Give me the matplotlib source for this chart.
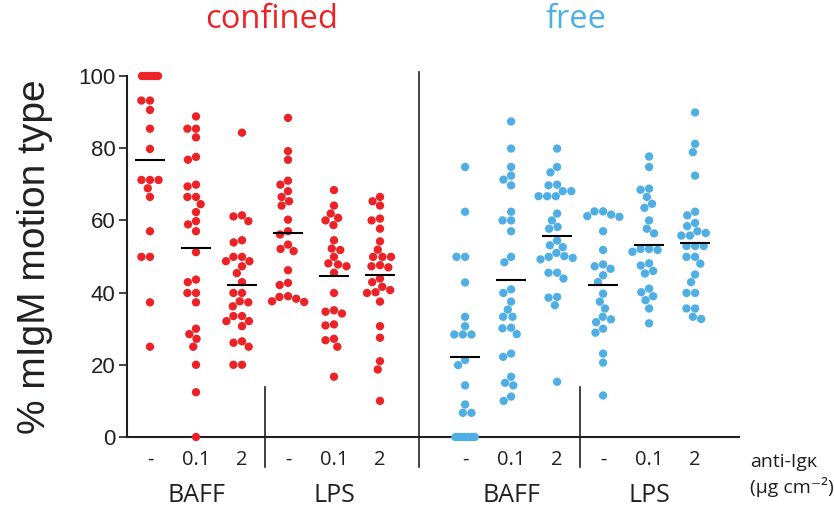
import numpy as np
import matplotlib
matplotlib.use("Agg")
import matplotlib.pyplot as plt

# ---------------- data ----------------
conditions = ["confined", "free"]
treatments = ["BAFF", "LPS"]
doses = ["-", "0.1", "2"]
dose_unit_label = "anti-Igκ"
dose_unit = "(μg cm⁻²)"
y_label = "% mIgM motion type"
y_ticks = [0, 20, 40, 60, 80, 100]

confined_baff_0 = [100, 100, 100, 100, 100, 100, 93.2, 93.2, 90.6, 85.4, 79.8,
                   71.2, 71.2, 71.2, 68.9, 66.5, 57.0, 49.9, 49.9, 37.3, 25.0]
confined_baff_01 = [88.8, 85.4, 85.4, 83.0, 77.6, 76.8, 69.4, 69.9, 66.5, 66.5,
                    64.5, 62.3, 59.8, 58.9, 57.0, 51.2, 43.6, 42.9, 39.9, 39.9,
                    37.3, 30.0, 27.2, 28.5, 25.0, 20.0, 12.4, 0.0]
confined_baff_2 = [84.3, 61.1, 61.4, 59.8, 53.9, 54.5, 49.9, 49.9, 48.7, 48.7,
                   47.3, 45.4, 42.9, 39.9, 39.9, 37.3, 36.2, 37.6, 33.5, 33.5,
                   32.1, 32.1, 30.7, 26.1, 26.5, 25.0, 20.0, 20.0]
confined_lps_0 = [88.4, 79.2, 76.8, 71.0, 69.9, 68.1, 66.5, 65.3, 64.1, 60.2,
                  57.0, 56.1, 53.3, 52.1, 51.5, 46.2, 42.7, 42.1, 39.0, 38.3,
                  37.6, 37.4, 38.8]
confined_lps_01 = [68.4, 64.1, 61.9, 60.7, 60.0, 58.7, 54.5, 52.2, 51.8, 49.9,
                   48.1, 47.8, 47.3, 45.5, 39.9, 35.1, 34.2, 34.7, 30.9, 31.2,
                   26.8, 27.2, 25.0, 16.7]
confined_lps_2 = [66.5, 65.3, 64.1, 60.5, 60.0, 57.7, 54.2, 51.9, 49.9, 49.9,
                  49.9, 47.6, 47.0, 47.3, 43.9, 42.9, 41.6, 40.7, 40.1, 39.9,
                  37.5, 30.7, 27.5, 21.0, 18.7, 10.0]

free_baff_0 = [74.8, 62.4, 49.9, 49.9, 42.8, 33.3, 30.7, 28.4, 28.4, 28.4, 21.3,
               19.9, 14.3, 9.0, 6.7, 6.7, 0, 0, 0, 0, 0, 0, 0]
free_baff_01 = [87.4, 79.9, 74.8, 72.4, 71.3, 69.7, 62.4, 60.0, 60.0, 57.0,
                49.9, 48.4, 40.9, 39.9, 37.5, 35.3, 33.3, 33.3, 30.1, 30.3,
                28.5, 23.1, 22.2, 16.7, 15.0, 14.3, 11.2, 10.0]
free_baff_2 = [79.9, 74.8, 73.3, 69.7, 69.9, 68.1, 68.1, 66.7, 66.7, 66.7, 61.9,
               60.0, 58.2, 57.7, 54.4, 53.1, 52.6, 51.0, 49.9, 49.6, 49.2, 50.1,
               45.5, 45.5, 43.9, 38.6, 38.8, 36.5, 15.3]
free_lps_0 = [62.5, 62.5, 61.6, 61.2, 61.0, 57.0, 51.8, 47.8, 47.3, 46.6, 44.8,
              42.9, 39.7, 37.5, 35.6, 33.3, 32.6, 31.8, 30.0, 28.9, 23.1, 20.6,
              11.5]
free_lps_01 = [77.7, 74.8, 68.8, 68.5, 66.5, 64.6, 63.5, 60.0, 57.7, 56.4, 52.1,
               51.8, 51.3, 52.1, 48.1, 47.5, 46.0, 45.3, 40.1, 41.1, 39.0, 37.9,
               35.6, 31.5]
free_lps_2 = [89.9, 81.2, 78.9, 72.4, 62.4, 61.4, 59.3, 58.4, 57.0, 56.5, 55.8,
              55.8, 52.9, 52.9, 52.9, 49.9, 49.9, 48.0, 45.0, 42.9, 39.9, 39.9,
              35.6, 35.6, 32.7, 33.3]

groups = {
    "confined": [confined_baff_0, confined_baff_01, confined_baff_2,
                 confined_lps_0, confined_lps_01, confined_lps_2],
    "free": [free_baff_0, free_baff_01, free_baff_2,
             free_lps_0, free_lps_01, free_lps_2],
}
colors = {"confined": "#EC2227", "free": "#4FAEE3"}
ink = "#231F20"

# ---------------- layout ----------------
W, H = 834, 514
fig = plt.figure(figsize=(W / 100, H / 100), dpi=100)
ax_left, ax_right, ax_bottom, ax_top = 126.5, 739, 437, 76
ax = fig.add_axes([ax_left / W, (H - ax_bottom) / H,
                   (ax_right - ax_left) / W, (ax_bottom - ax_top) / H])

step = 46.0  # px per category unit
free_offset = 6.85
ax.set_xlim((ax_left - 150) / step, (ax_right - 150) / step)
ax.set_ylim(0, 100)
ypx = (ax_bottom - ax_top) / 100.0


def swarm(vals, D=8.6, tie_step=3.2):
    vals = np.asarray(vals, dtype=float)
    offs = np.zeros(len(vals))
    placed = []
    uniq, counts = np.unique(vals, return_counts=True)
    cnt = dict(zip(uniq, counts))
    for u, c in cnt.items():
        if c >= 4:
            idx = np.where(vals == u)[0]
            xs_ = (np.arange(c) - (c - 1) / 2) * tie_step
            for i, x in zip(idx, xs_):
                offs[i] = x
                placed.append((x, u * ypx))
    for i in np.argsort(-vals, kind="stable"):
        if cnt[vals[i]] >= 4:
            continue
        y = vals[i] * ypx
        cands = [0.0]
        for (px, py) in placed:
            dy = abs(py - y)
            if dy < D:
                dx = np.sqrt(D * D - dy * dy)
                cands += [px + dx, px - dx]
        cands = sorted(cands, key=lambda c: (abs(c), c))
        for c in cands:
            if all((c - px) ** 2 + (y - py) ** 2 >= D * D - 1e-6 for px, py in placed):
                offs[i] = c
                placed.append((c, y))
                break
    return offs / step


for cond, base in (("confined", 0.0), ("free", free_offset)):
    for k, vals in enumerate(groups[cond]):
        pos = base + k
        xo = swarm(vals)
        ax.scatter(pos + xo, vals, s=36, color=colors[cond], edgecolors="none",
                   zorder=3, clip_on=False)
        m = np.mean(vals)
        ax.hlines(m, pos - 0.33, pos + 0.33, color="black", lw=1.5, zorder=4)
        ax.text(pos, -6.4, doses[k % 3], ha="center", va="center",
                fontsize=14.5, family="Open Sans", color=ink)
    for j, tr in enumerate(treatments):
        ax.text(base + 3 * j + 1, -16.2, tr, ha="center", va="center",
                fontsize=18, family="Open Sans", color=ink)
    sep = base + 2.5
    ax.plot([sep, sep], [13.9, -8.3], color=ink, lw=1.2, clip_on=False)

div = 5.85
ax.plot([div, div], [101.2, -8.3], color=ink, lw=1.2, clip_on=False)

for s in ("top", "right"):
    ax.spines[s].set_visible(False)
for s in ("left", "bottom"):
    ax.spines[s].set_linewidth(1.5)
    ax.spines[s].set_color(ink)
ax.set_xticks([])
ax.set_yticks(y_ticks)
ax.tick_params(axis="y", direction="out", length=6, width=1.2, pad=2,
               labelsize=16, colors=ink)
for lbl in ax.get_yticklabels():
    lbl.set_family("Liberation Sans")

fig.text(35 / W, 1 - 257 / H, y_label, rotation=90, ha="center", va="center",
         fontsize=28, family="Liberation Sans", color=ink)

fig.text(272 / W, 1 - 20 / H, conditions[0], ha="center", va="center",
         fontsize=23.5, family="Open Sans", color=colors["confined"])
fig.text(576 / W, 1 - 20 / H, conditions[1], ha="center", va="center",
         fontsize=23.5, family="Open Sans", color=colors["free"])

ax.text(13.04, -6.9, dose_unit_label, ha="left", va="center", fontsize=14,
        family=["Open Sans", "DejaVu Sans"], color=ink)
ax.text(13.04, -13.9, dose_unit, ha="left", va="center", fontsize=14,
        family=["Open Sans", "DejaVu Sans"], color=ink)

fig.savefig("out.png", dpi=100)
